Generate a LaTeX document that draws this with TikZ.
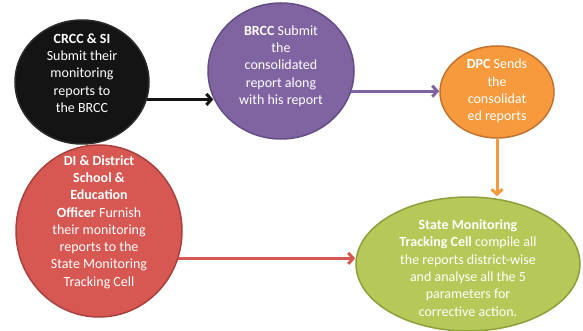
\documentclass[tikz,border=0pt]{standalone}
\usepackage{fontspec}
\setmainfont{Carlito}
\usetikzlibrary{shapes.geometric,arrows.meta}
\definecolor{crccfill}{HTML}{141414}
\definecolor{crccedge}{HTML}{2B2B2B}
\definecolor{brccfill}{HTML}{8064A2}
\definecolor{brccedge}{HTML}{654D85}
\definecolor{dpcfill}{HTML}{F79A3E}
\definecolor{dpcedge}{HTML}{C4732E}
\definecolor{difill}{HTML}{D75853}
\definecolor{diedge}{HTML}{A9403D}
\definecolor{smtcfill}{HTML}{B5C858}
\definecolor{smtcedge}{HTML}{8DA03C}
\tikzset{
  bubble/.style={ellipse,draw,line width=1.5pt,inner sep=0pt},
  bubbletext/.style={text=white,align=center,font=\fontsize{14}{17.3}\selectfont},
  flow/.style={-{Straight Barb[length=5pt,width=11pt]},line width=3pt}
}

\begin{document}
\begin{tikzpicture}[x=1pt,y=-1pt]
\useasboundingbox (0,0) rectangle (583,331);
\node at (82,82)[bubble,fill=crccfill,draw=crccedge,minimum width=134pt,minimum height=124pt] (crcc) {};
\node at (281,71)[bubble,fill=brccfill,draw=brccedge,minimum width=146pt,minimum height=136pt] (brcc) {};
\node at (497,92)[bubble,fill=dpcfill,draw=dpcedge,minimum width=114pt,minimum height=92pt] (dpc) {};
\node at (99,231)[bubble,fill=difill,draw=diedge,minimum width=166pt,minimum height=172pt] (di) {};
\node at (468,264)[bubble,fill=smtcfill,draw=smtcedge,minimum width=224pt,minimum height=134pt] (smtc) {};
\node at (82,73)[bubbletext] (crcc-txt) {\textbf{CRCC \& SI}\\Submit their\\monitoring\\reports to\\the BRCC};
\node at (281,66)[bubbletext] (brcc-txt) {\textbf{BRCC} Submit\\the\\consolidated\\report along\\with his report};
\node at (497,91)[bubbletext] (dpc-txt) {\textbf{DPC} Sends\\the\\consolidat\\ed reports};
\node at (99,222)[bubbletext] (di-txt) {\textbf{DI \& District}\\\textbf{School \&}\\\textbf{Education}\\\textbf{Officer} Furnish\\their monitoring\\reports to the\\State Monitoring\\Tracking Cell};
\node at (468,268)[bubbletext] (smtc-txt) {\textbf{State Monitoring}\\\textbf{Tracking Cell} compile all\\the reports district-wise\\and analyse all the 5\\parameters for\\corrective action.};
\draw[flow,crccfill] (crcc.-15) -- (brcc.202 |- crcc.-15);
\draw[flow,brccfill] (brcc.-16) -- (dpc.west |- brcc.-16);
\draw[flow,dpcfill] (dpc.south) -- (dpc.south |- smtc.north);
\draw[flow,difill] (di.-19) -- (smtc.west |- di.-19);
\end{tikzpicture}
\end{document}
